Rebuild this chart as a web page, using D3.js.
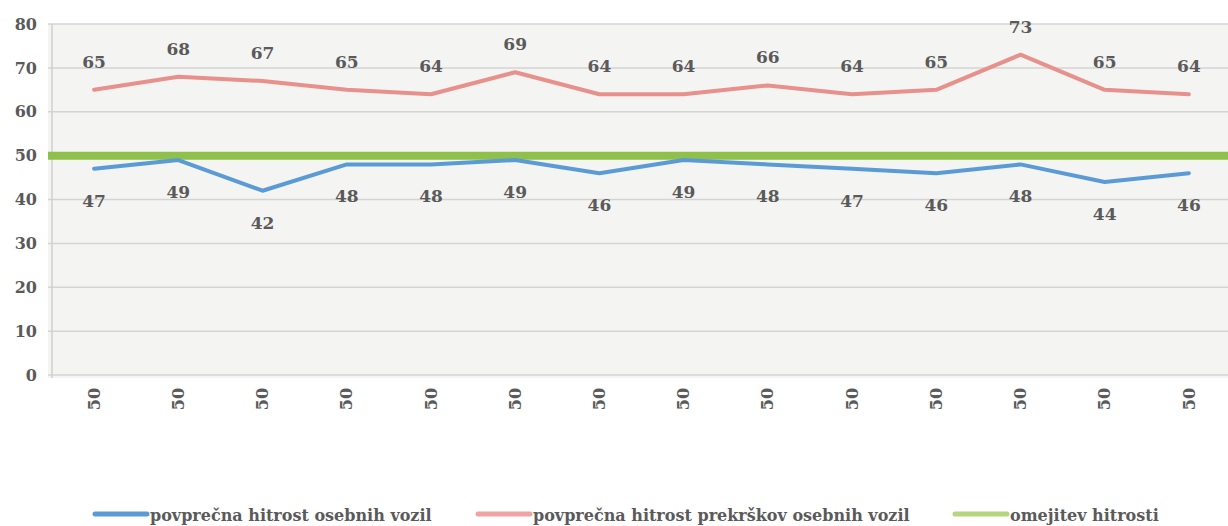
<!DOCTYPE html>
<html>
  <head>
    <meta charset="utf-8">
    <script type="text/javascript" src="https://cdn.jsdelivr.net/npm/d3@7/dist/d3.min.js"></script>
    <style type="text/css">
      body { margin: 0; background: #ffffff; }
      .axis path, .axis line { display: none; }
    </style>
  </head>
  <body>
    <script type="text/javascript">
      // tick labels on the x axis (speed limit at each measuring point)
      var xLabels = ["50", "50", "50", "50", "50", "50", "50", "50", "50", "50", "50", "50", "50", "50"];
      // average speed of passenger cars
      var avgSpeed = [47, 49, 42, 48, 48, 49, 46, 49, 48, 47, 46, 48, 44, 46];
      // average speed of speeding passenger cars
      var avgSpeeding = [65, 68, 67, 65, 64, 69, 64, 64, 66, 64, 65, 73, 65, 64];
      // speed limit
      var speedLimit = 50;
      var yTicks = [0, 10, 20, 30, 40, 50, 60, 70, 80];
      var seriesNames = ["povprečna hitrost osebnih vozil", "povprečna hitrost prekrškov osebnih vozil", "omejitev hitrosti"];

      var fontFam = "'DejaVu Serif', serif";
      var txtColor = "#5a5a5a";

      var width = 1228, height = 526;
      var svg = d3.select("body").append("svg")
        .attr("width", width)
        .attr("height", height);

      var xScale = d3.scaleBand()
        .domain(d3.range(xLabels.length))
        .range([52, 1231]);

      var yScale = d3.scaleLinear()
        .domain([0, 80])
        .range([375, 24]);

      function cx(i) { return xScale(i) + xScale.bandwidth() / 2; }

      // plot background
      svg.append("rect")
        .attr("x", 48)
        .attr("y", yScale(80))
        .attr("width", width - 48)
        .attr("height", yScale(0) - yScale(80) + 3)
        .attr("fill", "#f4f4f3");

      // grid lines
      svg.selectAll(".grid")
        .data(yTicks)
        .enter()
        .append("line")
        .attr("class", "grid")
        .attr("x1", 48)
        .attr("x2", width)
        .attr("y1", function(d) { return yScale(d); })
        .attr("y2", function(d) { return yScale(d); })
        .attr("stroke", "#d4d4d4")
        .attr("stroke-width", 1.5);

      // vertical axis line
      svg.append("line")
        .attr("x1", 52).attr("x2", 52)
        .attr("y1", yScale(80)).attr("y2", yScale(0) + 3)
        .attr("stroke", "#d0d0d0")
        .attr("stroke-width", 1.5);

      // y axis
      svg.append("g")
        .attr("class", "axis")
        .attr("transform", "translate(37,0)")
        .call(d3.axisLeft(yScale).tickValues(yTicks).tickSize(0).tickPadding(0))
        .selectAll("text")
        .style("font-size", "16px")
        .style("font-family", fontFam)
        .style("font-weight", "bold")
        .attr("fill", txtColor);

      // x axis, labels rotated
      svg.append("g")
        .attr("class", "axis")
        .attr("transform", "translate(0," + 399 + ")")
        .call(d3.axisBottom(xScale).tickFormat(function(d) { return xLabels[d]; }).tickSize(0))
        .selectAll("text")
        .style("font-size", "16px")
        .style("font-family", fontFam)
        .style("font-weight", "bold")
        .attr("fill", txtColor)
        .attr("x", 0)
        .attr("y", 0)
        .attr("text-anchor", "middle")
        .attr("dy", "0.35em")
        .attr("transform", "rotate(-90)");

      // speed limit line
      svg.append("line")
        .attr("x1", 48)
        .attr("x2", width)
        .attr("y1", yScale(speedLimit))
        .attr("y2", yScale(speedLimit))
        .attr("stroke", "#8fc04c")
        .attr("stroke-width", 8);

      var line = d3.line()
        .x(function(d, i) { return cx(i); })
        .y(function(d) { return yScale(d); });

      svg.append("path")
        .datum(avgSpeeding)
        .attr("d", line)
        .attr("fill", "none")
        .attr("stroke", "#e8908b")
        .attr("stroke-width", 4)
        .attr("stroke-linejoin", "round")
        .attr("stroke-linecap", "round");

      svg.append("path")
        .datum(avgSpeed)
        .attr("d", line)
        .attr("fill", "none")
        .attr("stroke", "#5b9bd5")
        .attr("stroke-width", 4)
        .attr("stroke-linejoin", "round")
        .attr("stroke-linecap", "round");

      // data labels
      svg.selectAll(".lblRed")
        .data(avgSpeeding)
        .enter()
        .append("text")
        .attr("class", "lblRed")
        .attr("x", function(d, i) { return cx(i); })
        .attr("y", function(d) { return yScale(d) - 22; })
        .attr("text-anchor", "middle")
        .style("font-size", "17px")
        .style("font-family", fontFam)
        .style("font-weight", "bold")
        .attr("fill", txtColor)
        .text(function(d) { return d; });

      svg.selectAll(".lblBlue")
        .data(avgSpeed)
        .enter()
        .append("text")
        .attr("class", "lblBlue")
        .attr("x", function(d, i) { return cx(i); })
        .attr("y", function(d) { return yScale(d) + 38; })
        .attr("text-anchor", "middle")
        .style("font-size", "17px")
        .style("font-family", fontFam)
        .style("font-weight", "bold")
        .attr("fill", txtColor)
        .text(function(d) { return d; });

      // legend
      var legendColors = ["#5b9bd5", "#f0a3a3", "#b5d67c"];
      var legendX = [95, 478, 955];
      var legend = svg.selectAll(".legend")
        .data(seriesNames)
        .enter()
        .append("g")
        .attr("class", "legend")
        .attr("transform", function(d, i) { return "translate(" + legendX[i] + ",514)"; });

      legend.append("line")
        .attr("x1", 0).attr("x2", 52)
        .attr("y1", 0).attr("y2", 0)
        .attr("stroke", function(d, i) { return legendColors[i]; })
        .attr("stroke-width", 5)
        .attr("stroke-linecap", "round");

      legend.append("text")
        .attr("x", 55)
        .attr("y", 7)
        .style("font-size", "16px")
        .style("font-family", fontFam)
        .style("font-weight", "bold")
        .attr("fill", txtColor)
        .text(function(d) { return d; });
    </script>
  </body>
</html>
